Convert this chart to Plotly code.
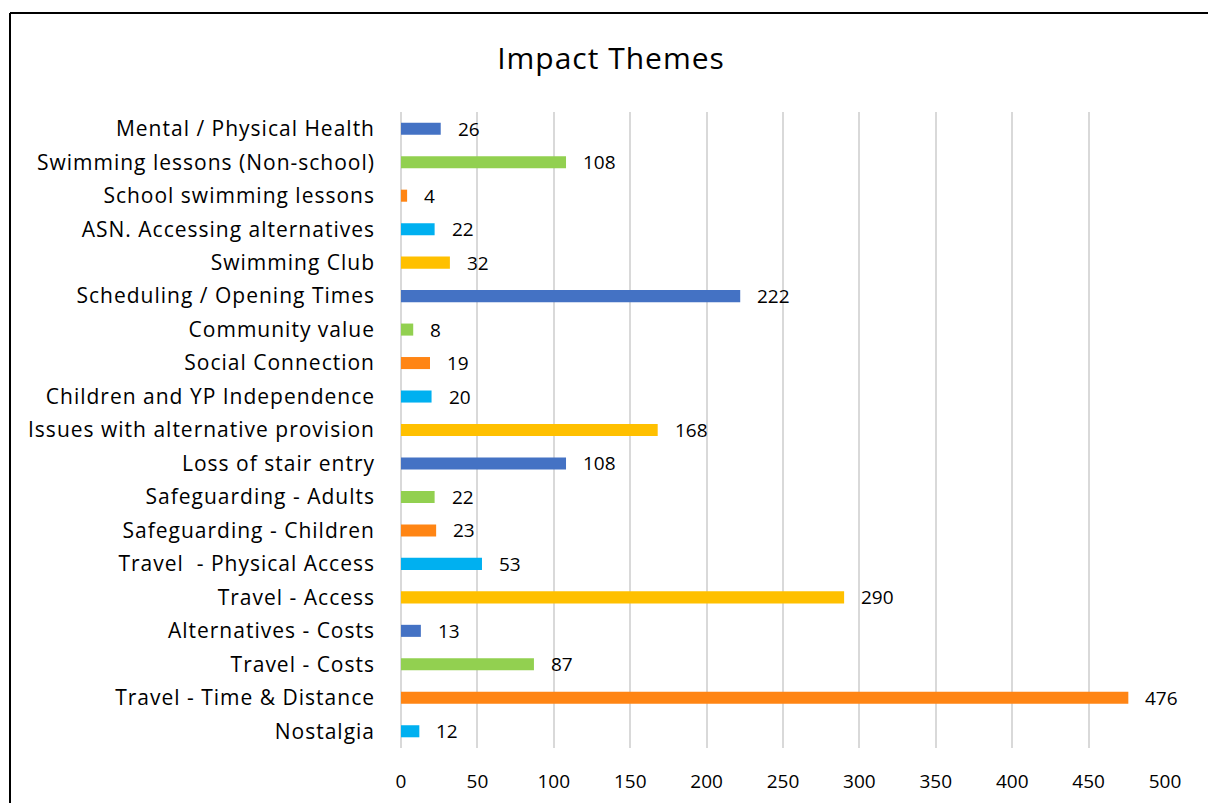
import plotly.graph_objects as go

categories = [
    "Mental / Physical Health",
    "Swimming lessons (Non-school)",
    "School swimming lessons",
    "ASN. Accessing alternatives",
    "Swimming Club",
    "Scheduling / Opening Times",
    "Community value",
    "Social Connection",
    "Children and YP Independence",
    "Issues with alternative provision",
    "Loss of stair entry",
    "Safeguarding - Adults",
    "Safeguarding - Children",
    "Travel  - Physical Access",
    "Travel - Access",
    "Alternatives - Costs",
    "Travel - Costs",
    "Travel - Time & Distance",
    "Nostalgia",
]
values = [26, 108, 4, 22, 32, 222, 8, 19, 20, 168, 108, 22, 23, 53, 290, 13, 87, 476, 12]
palette = ["#4472C4", "#92D050", "#FF8514", "#00B0F0", "#FFC000"]
colors = [palette[i % 5] for i in range(len(categories))]
x_ticks = [0, 50, 100, 150, 200, 250, 300, 350, 400, 450, 500]

FONT = "Open Sans"

fig = go.Figure()
fig.add_trace(go.Bar(
    x=values, y=categories, orientation="h",
    marker=dict(color=colors, line=dict(width=0)),
    width=0.36, hoverinfo="x+y",
))

annotations = [
    dict(x=v, y=c, xref="x", yref="y", text=str(v), showarrow=False,
         xanchor="left", yanchor="middle", xshift=15,
         font=dict(family=FONT, size=19, color="#000000"))
    for c, v in zip(categories, values)
]

W, H = 1208, 803
L, T = 401, 112
R = W - 1165
B = H - 748
pw, ph = W - L - R, H - T - B

fig.update_layout(
    width=W, height=H,
    margin=dict(l=L, r=R, t=T, b=B, autoexpand=False),
    paper_bgcolor="white", plot_bgcolor="white",
    showlegend=False,
    bargap=0.64,
    title=dict(text="Impact Themes", x=611 / W, xanchor="center",
               y=1 - 58 / H, yanchor="middle",
               font=dict(family=FONT, size=30, color="#000000")),
    xaxis=dict(range=[0, 500], tickvals=x_ticks, showgrid=True,
               gridcolor="#D9D9D9", gridwidth=1.5, zeroline=True,
               zerolinecolor="#D9D9D9", zerolinewidth=1.5, showline=False,
               ticks="", ticklabelstandoff=20, automargin=False,
               tickfont=dict(family=FONT, size=19, color="#000000")),
    yaxis=dict(autorange="reversed", showgrid=False, showline=False,
               ticks="", ticklabelstandoff=25, automargin=False,
               tickfont=dict(family=FONT, size=21, color="#000000")),
    annotations=annotations,
    shapes=[
        dict(type="line", xref="paper", yref="paper",
             x0=(10 - L) / pw, x1=(10 - L) / pw,
             y0=-(B + 40) / ph, y1=1 + (T - 13) / ph,
             line=dict(color="#000000", width=2), layer="below"),
        dict(type="line", xref="paper", yref="paper",
             x0=(10 - L) / pw, x1=(W + 40 - L) / pw,
             y0=1 + (T - 13) / ph, y1=1 + (T - 13) / ph,
             line=dict(color="#000000", width=2), layer="below"),
    ],
)

post = """
document.body.style.margin = '0';
document.documentElement.style.overflow = 'hidden';
document.body.style.overflow = 'hidden';
var gd = document.getElementById('{plot_id}');
function spacing() {
  gd.querySelectorAll('.ytick text').forEach(function(t){ t.setAttribute('letter-spacing', '1px'); });
  gd.querySelectorAll('.gtitle').forEach(function(t){ t.setAttribute('letter-spacing', '1px'); });
}
spacing();
gd.on('plotly_afterplot', spacing);
"""

fig.write_html("out.html", post_script=post, config={"displayModeBar": False})
